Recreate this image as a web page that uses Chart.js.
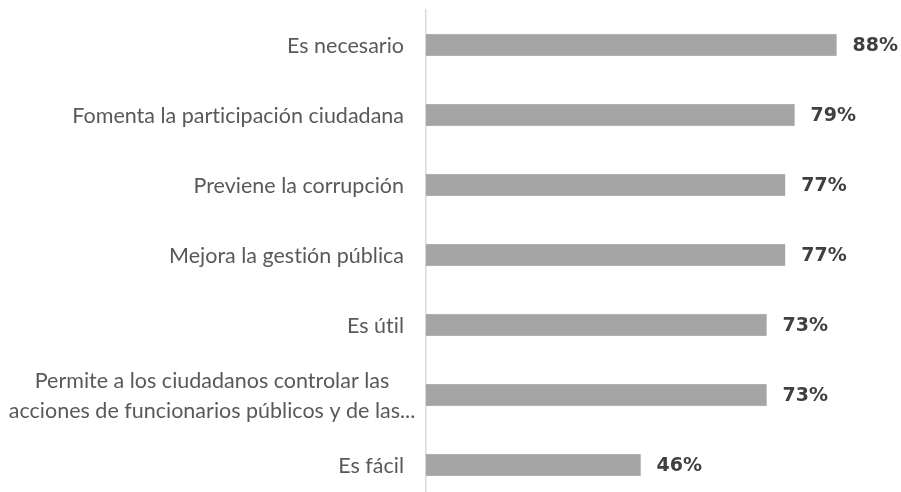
<!DOCTYPE html>
<html>
<head>
<meta charset="utf-8">
<script src="https://cdn.jsdelivr.net/npm/chart.js@4.4.1/dist/chart.umd.min.js"></script>
<style>
html,body{margin:0;padding:0;background:#fff;overflow:hidden;}
#wrap{width:901px;height:500px;position:relative;}
canvas{font-variant-ligatures:none;}
</style>
</head>
<body>
<div id="wrap"><canvas id="c" width="901" height="500"></canvas></div>
<script>
const categories = [
  "Es necesario",
  "Fomenta la participación ciudadana",
  "Previene la corrupción",
  "Mejora la gestión pública",
  "Es útil",
  ["Permite a los ciudadanos controlar las", "acciones de funcionarios públicos y de las..."],
  "Es fácil"
];
const values = [88, 79, 77, 77, 73, 73, 46];
const valueLabels = ["88%", "79%", "77%", "77%", "73%", "73%", "46%"];

function noLig(ctx) {
  try { ctx.textRendering = 'optimizeSpeed'; } catch (e) {}
  try { ctx.fontVariantLigatures = 'none'; } catch (e) {}
}

// Category labels drawn at the y scale's tick positions
const categoryLabelPlugin = {
  id: 'categoryLabels',
  afterDraw(chart) {
    const ctx = chart.ctx;
    const yScale = chart.scales.y;
    ctx.save();
    noLig(ctx);
    ctx.font = '21.5px Lato';
    ctx.fillStyle = '#595959';
    ctx.textBaseline = 'alphabetic';
    const right = yScale.right - 22;
    categories.forEach((lab, i) => {
      const y = yScale.getPixelForTick(i);
      const lines = Array.isArray(lab) ? lab : [lab];
      const n = lines.length;
      lines.forEach((line, j) => {
        const base = y + 7.5 - (n - 1) * 15 + j * 30;
        if (n > 1) {
          ctx.textAlign = 'center';
          ctx.fillText(line, 212, base);
        } else {
          ctx.textAlign = 'right';
          ctx.fillText(line, right, base);
        }
      });
    });
    ctx.restore();
  }
};

const valueLabelPlugin = {
  id: 'valueLabels',
  afterDatasetsDraw(chart) {
    const ctx = chart.ctx;
    const meta = chart.getDatasetMeta(0);
    ctx.save();
    ctx.font = 'bold 19px "DejaVu Sans"';
    ctx.fillStyle = '#404040';
    ctx.textAlign = 'left';
    ctx.textBaseline = 'middle';
    meta.data.forEach((bar, i) => {
      ctx.fillText(valueLabels[i], bar.x + 16, bar.y + 1);
    });
    ctx.restore();
  }
};

new Chart(document.getElementById('c'), {
  type: 'bar',
  data: {
    labels: categories,
    datasets: [{
      data: values,
      backgroundColor: '#a5a5a5',
      borderColor: '#c8c8c8',
      borderWidth: 0.5,
      borderSkipped: 'start',
      barThickness: 22
    }]
  },
  options: {
    indexAxis: 'y',
    responsive: false,
    animation: false,
    layout: { padding: { top: 10, right: 8.5, bottom: 0, left: 0 } },
    plugins: { legend: { display: false }, tooltip: { enabled: false } },
    scales: {
      x: { min: 0, max: 100, display: false },
      y: {
        afterFit(scale) {
          scale.width = 426;
          scale.paddingTop = 0;
          scale.paddingBottom = 0;
        },
        grid: { display: false, drawTicks: false },
        border: { display: true, color: '#d9d9d9', width: 1.5 },
        ticks: { display: false }
      }
    }
  },
  plugins: [valueLabelPlugin, categoryLabelPlugin]
});
</script>
</body>
</html>
